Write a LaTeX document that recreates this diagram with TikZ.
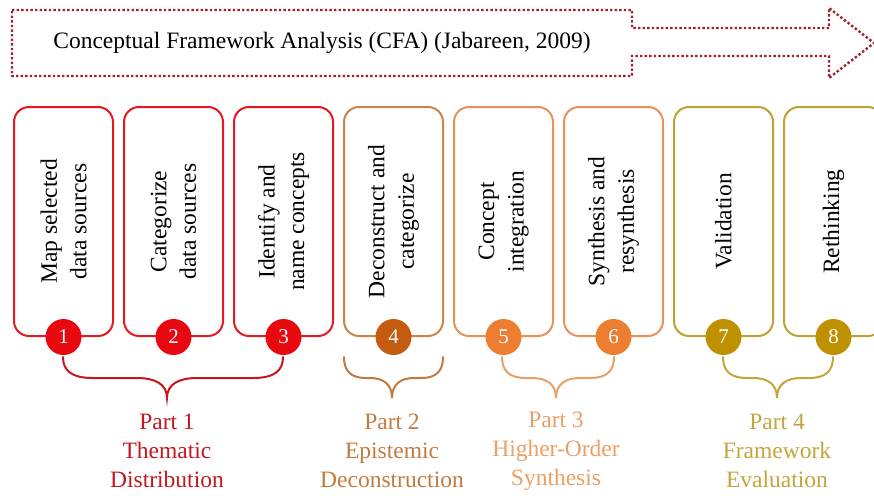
\documentclass[tikz,border=0pt]{standalone}
\usepackage{fontspec}
\setmainfont{Liberation Serif}
\definecolor{redA}{HTML}{E31A22}
\definecolor{redC}{HTML}{E8080F}
\definecolor{redT}{HTML}{C4161F}
\definecolor{brA}{HTML}{C9854A}
\definecolor{brC}{HTML}{C55A11}
\definecolor{brT}{HTML}{C27B3E}
\definecolor{orA}{HTML}{E8925A}
\definecolor{orC}{HTML}{ED7D31}
\definecolor{orT}{HTML}{E9A066}
\definecolor{goA}{HTML}{C1A133}
\definecolor{goC}{HTML}{BF9000}
\definecolor{goT}{HTML}{C2A53C}
\definecolor{dotred}{HTML}{A0202C}
\newcommand{\pbrace}[5]{%
  \draw[bracestyle,#5] (#1,357) .. controls (#1,371) and (#1+0.3*#4,378) .. (#1+#4,378)
    -- (#2-#4,378) .. controls (#2-0.4*#4,378) and (#2,384) .. (#2,398)
    .. controls (#2,384) and (#2+0.4*#4,378) .. (#2+#4,378)
    -- (#3-#4,378) .. controls (#3-0.3*#4,378) and (#3,371) .. (#3,357);}
\begin{document}
\begin{tikzpicture}[x=1pt,y=-1pt,
  stepbox/.style={draw, line width=2pt, rounded corners=15pt, minimum width=99pt, minimum height=229pt, inner sep=0pt, fill=white},
  num/.style={circle, fill, minimum size=36pt, inner sep=0pt, text=white, font=\fontsize{21}{24}\selectfont},
  boxtext/.style={rotate=90, align=center, font=\fontsize{23.5}{29.5}\selectfont},
  partlabel/.style={align=center, font=\fontsize{23.5}{29}\selectfont},
  bracestyle/.style={line width=2pt, line cap=round},
  dotline/.style={draw=dotred, line width=2.4pt, dash pattern=on 2.4pt off 2.2pt}
]
\useasboundingbox (0,0) rectangle (874,495);
% title arrow
\draw[dotline] (12,10) -- (632,10) -- (632,28) -- (829,28) -- (829,8) -- (874,43) -- (829,78) -- (829,56) -- (632,56) -- (632,76) -- (12,76) -- cycle;
\node[font=\fontsize{23.5}{28}\selectfont] (title) at (322,43) {Conceptual Framework Analysis (CFA) (Jabareen, 2009)};
% boxes
\node[stepbox, draw=redA] (b1) at (63.5,221.5) {};
\node[stepbox, draw=redA] (b2) at (173.5,221.5) {};
\node[stepbox, draw=redA] (b3) at (283.5,221.5) {};
\node[stepbox, draw=brA] (b4) at (393.5,221.5) {};
\node[stepbox, draw=orA] (b5) at (503.5,221.5) {};
\node[stepbox, draw=orA] (b6) at (613.5,221.5) {};
\node[stepbox, draw=goA] (b7) at (723.5,221.5) {};
\node[stepbox, draw=goA] (b8) at (833.5,221.5) {};
% box texts
\node[boxtext] (t1) at (b1) {Map selected\\data sources};
\node[boxtext] (t2) at (b2) {Categorize\\data sources};
\node[boxtext] (t3) at (b3) {Identify and\\name concepts};
\node[boxtext] (t4) at (b4) {Deconstruct and\\categorize};
\node[boxtext] (t5) at (b5) {Concept\\integration};
\node[boxtext] (t6) at (b6) {Synthesis and\\resynthesis};
\node[boxtext] (t7) at (b7) {Validation};
\node[boxtext] (t8) at (b8) {Rethinking};
% numbers
\node[num, fill=redC] (n1) at (b1.south) {1};
\node[num, fill=redC] (n2) at (b2.south) {2};
\node[num, fill=redC] (n3) at (b3.south) {3};
\node[num, fill=brC] (n4) at (b4.south) {4};
\node[num, fill=orC] (n5) at (b5.south) {5};
\node[num, fill=orC] (n6) at (b6.south) {6};
\node[num, fill=goC] (n7) at (b7.south) {7};
\node[num, fill=goC] (n8) at (b8.south) {8};
% braces
\pbrace{63}{167}{283}{30}{redT}
\pbrace{344}{392}{443}{22}{brT}
\pbrace{502}{556}{614}{24}{orT}
\pbrace{723}{777}{833}{24}{goT}
% labels
\node[partlabel, text=redT] (p1) at (167,451) {Part 1\\Thematic\\Distribution};
\node[partlabel, text=brT] (p2) at (392,451) {Part 2\\Epistemic\\Deconstruction};
\node[partlabel, text=orT] (p3) at (556,451) {Part 3\\Higher-Order\\Synthesis};
\node[partlabel, text=goT] (p4) at (777,451) {Part 4\\Framework\\Evaluation};
\end{tikzpicture}
\end{document}
